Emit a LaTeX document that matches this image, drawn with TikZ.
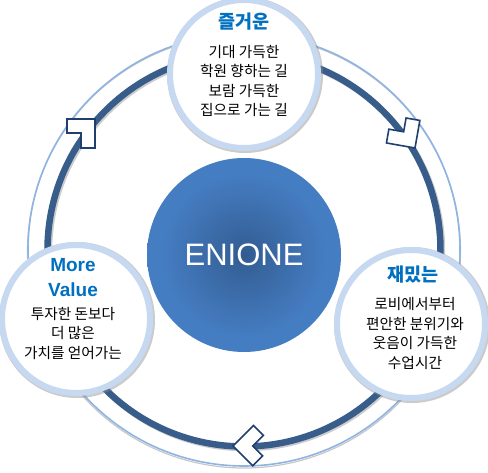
\documentclass[tikz,border=0pt]{standalone}
\usepackage{fontspec}
\setmainfont{Liberation Sans}
\newfontfamily\kr{Noto Sans CJK KR}
\definecolor{ringdark}{RGB}{56,93,138}
\definecolor{ringlight}{RGB}{142,180,227}
\definecolor{bordblue}{RGB}{198,217,241}
\definecolor{titleblue}{RGB}{0,112,192}
\definecolor{arrowblue}{RGB}{31,63,110}
\pgfdeclareradialshading{ctrshade}{\pgfpoint{0bp}{0bp}}{rgb(0bp)=(0.19,0.35,0.56); rgb(3bp)=(0.21,0.38,0.60); rgb(21bp)=(0.27,0.49,0.76); rgb(50bp)=(0.27,0.49,0.76)}
\begin{document}
\begin{tikzpicture}[x=1pt,y=-1pt,
  smallc/.style={circle, draw=bordblue, line width=6pt, fill=white, minimum size=148pt, inner sep=0pt},
  shad/.style={circle, draw=black!45, line width=8pt, minimum size=148pt, inner sep=0pt, opacity=0.45},
  ttl/.style={font=\kr\bfseries\fontsize{18.5}{20}\selectfont, text=titleblue, inner sep=0pt},
  ttllat/.style={font=\bfseries\fontsize{19}{25}\selectfont, text=titleblue, inner sep=0pt, align=center},
  body/.style={font=\kr\fontsize{14.7}{19.5}\selectfont, align=center, inner sep=0pt},
  lshape/.style={draw=arrowblue, line width=1.6pt, fill=white, line join=miter},
]
\useasboundingbox (0,0) rectangle (488,472);
\coordinate (ctr) at (244,250);
% rings
\draw[black!22, line width=1.2pt] (244,251.5) circle (216.5);
\draw[ringlight, line width=1.6pt] (ctr) circle (216);
\draw[black!20, line width=6.5pt] (245.5,251.5) circle (196.5);
\draw[ringdark, line width=6.5pt] (ctr) circle (196.5);
% direction marks
\begin{scope}[shift={(95,119)}]
  \draw[lshape] (0,0) -- (-28,0) -- (-28,14) -- (-14,14) -- (-14,29) -- (0,29) -- cycle;
\end{scope}
\begin{scope}[shift={(415,148)}, rotate=-100]
  \draw[lshape] (0,0) -- (-28,0) -- (-28,14) -- (-14,14) -- (-14,29) -- (0,29) -- cycle;
\end{scope}
\begin{scope}[shift={(233,446)}, rotate=135]
  \draw[lshape] (0,0) -- (-28,0) -- (-28,14) -- (-14,14) -- (-14,29) -- (0,29) -- cycle;
\end{scope}
% small circles
\node[shad] (tops) at (245,75) {};
\node[smallc] (top) at (244,74) {};
\node[shad] (lefts) at (77,320) {};
\node[smallc] (left) at (76,319) {};
\node[shad] (rights) at (412,325) {};
\node[smallc] (right) at (411,324) {};
% central circle
\node[circle, minimum size=194pt, inner sep=0pt, shading=ctrshade, text=white,
      font=\fontsize{31}{31}\selectfont] (core) at (244,255) {ENIONE};
% texts
\node[ttl] (toptitle) at (244,22) {즐거운};
\node[body] (topbody) at (244,81) {기대 가득한\\학원 향하는 길\\보람 가득한\\집으로 가는 길};
\node[ttllat] (lefttitle) at (73,277.5) {More\\Value};
\node[body] (leftbody) at (73,333) {투자한 돈보다\\더 많은\\가치를 얻어가는};
\node[ttl] (righttitle) at (413,275) {재밌는};
\node[body] (rightbody) at (415,333.5) {로비에서부터\\편안한 분위기와\\웃음이 가득한\\수업시간};
\end{tikzpicture}
\end{document}
